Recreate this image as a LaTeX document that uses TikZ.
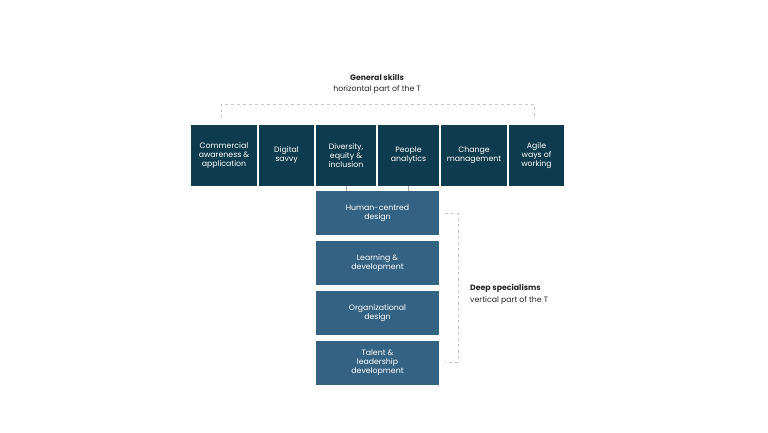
\documentclass[tikz,border=0pt]{standalone}
\usepackage{fontspec}
\setmainfont{Poppins}
\definecolor{dark}{HTML}{0E3B4E}
\definecolor{mid}{HTML}{346282}
\definecolor{dash}{HTML}{C8C8C8}
\tikzset{
 gbox/.style={fill=dark,text=white,align=center,font=\fontsize{7.8}{9}\selectfont,inner sep=0pt},
 sbox/.style={fill=mid,text=white,align=center,font=\fontsize{7.8}{9}\selectfont,inner sep=0pt,minimum width=123pt,minimum height=44pt},
 brk/.style={draw=dash,dashed,line width=0.6pt},
 lbl/.style={font=\fontsize{7.8}{9}\selectfont,text=black!85,inner sep=0pt}
}
\begin{document}
\begin{tikzpicture}[x=1pt,y=-1pt]
\useasboundingbox (0,0) rectangle (768,432);
\node[gbox,minimum width=66pt,minimum height=61pt] (g1) at (224,155.5) {Commercial\\awareness \&\\application};
\node[gbox,minimum width=55pt,minimum height=61pt] (g2) at (286.5,155.5) {Digital\\savvy};
\node[gbox,minimum width=60pt,minimum height=61pt] (g3) at (346,155.5) {Diversity,\\equity \&\\inclusion};
\node[gbox,minimum width=61pt,minimum height=61pt] (g4) at (408.5,155.5) {People\\analytics};
\node[gbox,minimum width=66pt,minimum height=61pt] (g5) at (474,155.5) {Change\\management};
\node[gbox,minimum width=55pt,minimum height=61pt] (g6) at (536.5,155.5) {Agile\\ways of\\working};
\node[sbox] (s1) at (377.5,213) {Human-centred\\design};
\node[sbox] (s2) at (377.5,263) {Learning \&\\development};
\node[sbox] (s3) at (377.5,313) {Organizational\\design};
\node[sbox] (s4) at (377.5,362.5) {Talent \&\\leadership\\development};
\draw[draw=gray!70,line width=0.6pt] (g3.south) -- (g3.south |- s1.north);
\draw[draw=gray!70,line width=0.6pt] (g4.south) -- (g4.south |- s1.north);
\coordinate (t1) at (221,118); \coordinate (t2) at (534,118);
\draw[brk] (t1) -- (221,104) -- (534,104) -- (t2);
\coordinate (r1) at (445,213); \coordinate (r2) at (445,362);
\draw[brk] (r1) -- (458,213) -- (458,362) -- (r2);
\node[lbl,font=\fontsize{7.8}{9}\selectfont\bfseries] (gs) at (377,77) {General skills};
\node[lbl] (gh) at (377,90) {horizontal part of the T};
\node[lbl,anchor=west,font=\fontsize{7.8}{9}\selectfont\bfseries] (ds) at (470,288) {Deep specialisms};
\node[lbl,anchor=west] (dv) at (470,301) {vertical part of the T};
\end{tikzpicture}
\end{document}
